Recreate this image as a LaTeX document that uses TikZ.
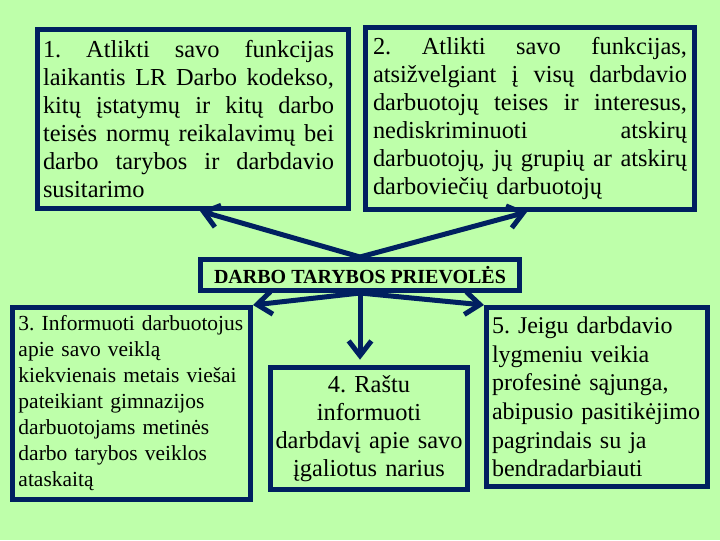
\documentclass[tikz,border=0pt]{standalone}
\usepackage{fontspec}
\setmainfont{Liberation Serif}
\usetikzlibrary{arrows.meta}
\definecolor{bg}{RGB}{190,255,170}
\definecolor{navy}{RGB}{0,32,96}
\frenchspacing
\newcommand\pxu{0.75pt}
\newcommand\jl[2]{\leavevmode\hbox to #1{\spaceskip=.25em plus 1fil\relax #2}}
\begin{document}
\begin{tikzpicture}[x=0.75pt,y=-0.75pt,
  box/.style={draw=navy, line width=3.75pt, inner sep=0pt, text=black},
  big/.style={font=\fontsize{18.3}{21}\selectfont},
  conn/.style={draw=navy, line width=3.75pt, -{Straight Barb[length=11pt,width=17pt]}}]
\fill[bg] (0,0) rectangle (720,540);
\useasboundingbox (0,0) rectangle (720,540);

\node[box, big, minimum width=311*\pxu, minimum height=179*\pxu, text width=300*\pxu, align=left] (b1) at (193,119)
{\jl{218.25pt}{1. Atlikti savo funkcijas}\\
 \jl{218.25pt}{laikantis LR Darbo kodekso,}\\
 \jl{218.25pt}{kitų įstatymų ir kitų darbo}\\
 \jl{218.25pt}{teisės normų reikalavimų bei}\\
 \jl{218.25pt}{darbo tarybos ir darbdavio}\\
 susitarimo};

\node[box, big, minimum width=329*\pxu, minimum height=182*\pxu, text width=314*\pxu, align=left] (b2) at (530,118.5)
{\jl{235.5pt}{2. Atlikti savo funkcijas,}\\
 \jl{235.5pt}{atsižvelgiant į visų darbdavio}\\
 \jl{235.5pt}{darbuotojų teises ir interesus,}\\
 \jl{235.5pt}{nediskriminuoti atskirų}\\
 \jl{235.5pt}{darbuotojų, jų grupių ar atskirų}\\
 darboviečių darbuotojų};

\node[box, minimum width=319*\pxu, minimum height=31*\pxu, font=\fontsize{15}{18}\selectfont\bfseries] (cen) at (360,275)
{DARBO TARYBOS PRIEVOLĖS};

\node[box, minimum width=238*\pxu, minimum height=192*\pxu, text width=226*\pxu, align=left,
  font=\fontsize{16.1}{19.5}\selectfont] (b3) at (131.5,403.5)
{\mbox{3. Informuoti darbuotojus}\\
 apie savo veiklą\\
 \mbox{kiekvienais metais viešai}\\
 pateikiant gimnazijos\\
 darbuotojams metinės\\
 darbo tarybos veiklos\\
 ataskaitą};

\node[box, big, minimum width=197*\pxu, minimum height=122*\pxu, text width=190*\pxu, align=center] (b4) at (369,428.5)
{4. Raštu\\ informuoti\\ darbdavį apie savo\\ įgaliotus narius};

\node[box, minimum width=221*\pxu, minimum height=179*\pxu, text width=210*\pxu, align=left,
  font=\fontsize{18}{21.5}\selectfont] (b5) at (597,397)
{5. Jeigu darbdavio\\
 lygmeniu veikia\\
 profesinė sąjunga,\\
 abipusio pasitikėjimo\\
 pagrindais su ja\\
 bendradarbiauti};

\draw[conn] (cen.north) -- (b1.south -| 200,0);
\draw[conn] (cen.north) -- (b2.south -| 527,0);
\draw[conn] (cen.south) -- (b3.north east);
\draw[conn, shorten >=4pt] (cen.south) -- (cen.south |- b4.north);
\draw[conn] (cen.south) -- (b5.north west);
\end{tikzpicture}
\end{document}
